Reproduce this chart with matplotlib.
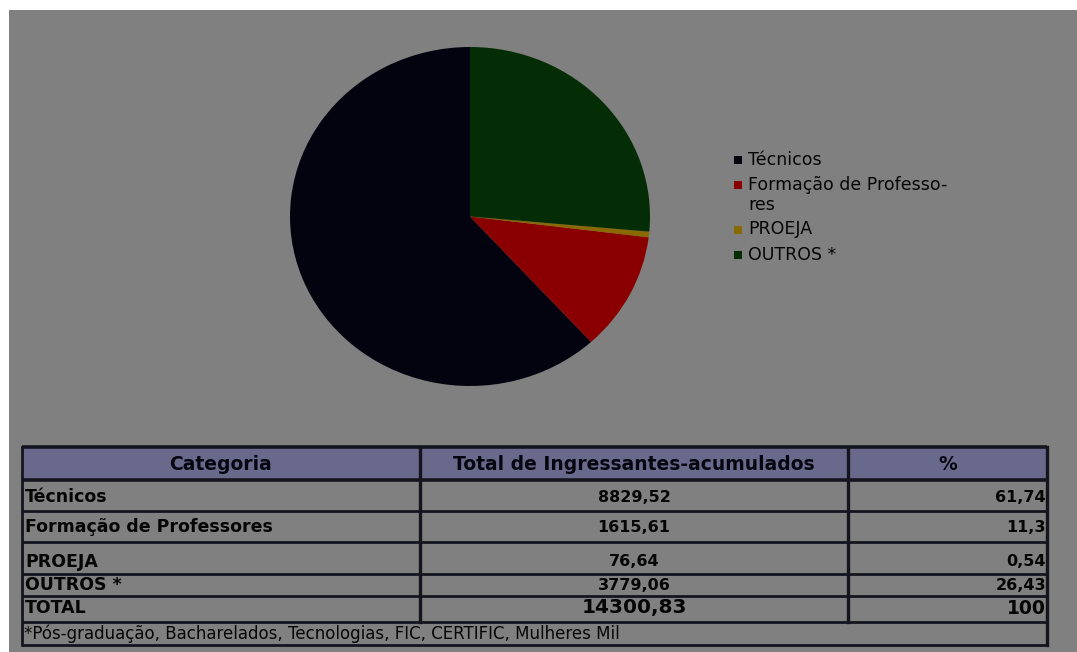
import matplotlib.pyplot as plt
from matplotlib.patches import Rectangle

plt.rcParams['font.family'] = ['DejaVu Sans']

# dados de ingressantes acumulados por categoria
categorias = ['Técnicos', 'Formação de Professores', 'PROEJA', 'OUTROS *']
legenda = ['Técnicos', 'Formação de Professo-\nres', 'PROEJA', 'OUTROS *']
totais = [8829.52, 1615.61, 76.64, 3779.06]
percentuais = ['61,74', '11,3', '0,54', '26,43']
total_geral = '14300,83'
total_pct = '100'
nota = '*Pós-graduação, Bacharelados, Tecnologias, FIC, CERTIFIC, Mulheres Mil'
cores = ['#03030f', '#8a0000', '#8a6a00', '#052d05']

W, H = 1077, 652
fig = plt.figure(figsize=(W / 100, H / 100), dpi=100)
fig.patch.set_facecolor('white')


def px(x0, y0, x1, y1):
    # caixa em pixels -> fração da figura
    return [x0 / W, 1 - y1 / H, (x1 - x0) / W, (y1 - y0) / H]


# fundo cinza, legenda e tabela em coordenadas de pixel
base = fig.add_axes([0, 0, 1, 1])
base.set_xlim(0, W)
base.set_ylim(H, 0)
base.axis('off')
base.add_patch(Rectangle((9, 10), W - 9, H - 10, facecolor='#808080', edgecolor='none'))

# pizza
ax = fig.add_axes(px(290, 47, 650, 386))
wedges, _ = ax.pie(totais, colors=cores, startangle=90, counterclock=True,
                   wedgeprops=dict(linewidth=0))
ax.set_aspect('auto')
ax.set_xlim(-1, 1)
ax.set_ylim(-1, 1)

# legenda: quadrado alinhado com a primeira linha do rótulo
y = 160
for w, rotulo in zip(wedges, legenda):
    base.add_patch(Rectangle((734, y - 4), 8, 8, facecolor=w.get_facecolor(),
                             edgecolor='none'))
    for k, parte in enumerate(rotulo.split('\n')):
        base.text(748, y + k * 19.5, parte, ha='left', va='center',
                  fontsize=12.5, color='#050505')
    y += 25 + 19.5 * (rotulo.count('\n'))

# tabela
xs = [22, 420, 848, 1047]
linhas = [447, 480, 511, 542, 574, 596, 622, 645]
cor_linha = '#151520'

base.add_patch(Rectangle((xs[0], linhas[0]), xs[-1] - xs[0], linhas[1] - linhas[0],
                         facecolor='#69698b', edgecolor='none'))
for yl in linhas:
    lw = 2.6 if yl in (linhas[0], linhas[1]) else 2.0
    base.plot([xs[0], xs[-1]], [yl, yl], color=cor_linha, lw=lw, solid_capstyle='butt')
base.plot([xs[0], xs[0]], [linhas[0], linhas[-1]], color=cor_linha, lw=2.0)
base.plot([xs[-1], xs[-1]], [linhas[0], linhas[-1]], color=cor_linha, lw=2.4)
for x in xs[1:3]:
    base.plot([x, x], [linhas[0], linhas[-2]], color=cor_linha, lw=2.4)

cabecalho = ['Categoria', 'Total de Ingressantes-acumulados', '%']
for i, t in enumerate(cabecalho):
    base.text((xs[i] + xs[i + 1]) / 2, 465, t, ha='center', va='center',
              fontsize=13.5, fontweight='bold', color='#050510')

ys_texto = [497, 527, 562, 585, 608]
for i, (cat, val, pct) in enumerate(zip(categorias, totais, percentuais)):
    yt = ys_texto[i]
    base.text(xs[0] + 3, yt, cat, ha='left', va='center', fontsize=12.5,
              fontweight='bold', color='#050505')
    base.text((xs[1] + xs[2]) / 2, yt, f'{val:.2f}'.replace('.', ','), ha='center',
              va='center', fontsize=11.5, fontweight='bold', color='#050505')
    base.text(xs[3] - 1, yt, pct, ha='right', va='center', fontsize=11.5,
              fontweight='bold', color='#050505')

yt = ys_texto[-1]
base.text(xs[0] + 3, yt, 'TOTAL', ha='left', va='center', fontsize=12.5,
          fontweight='bold', color='#050505')
base.text((xs[1] + xs[2]) / 2, yt, total_geral, ha='center', va='center',
          fontsize=14.5, fontweight='bold', color='#050505')
base.text(xs[3] - 1, yt, total_pct, ha='right', va='center', fontsize=13.5,
          fontweight='bold', color='#050505')

base.text(xs[0] + 2, 634, nota, ha='left', va='center', fontsize=12, color='#050505')

fig.savefig('out.png', dpi=100)
